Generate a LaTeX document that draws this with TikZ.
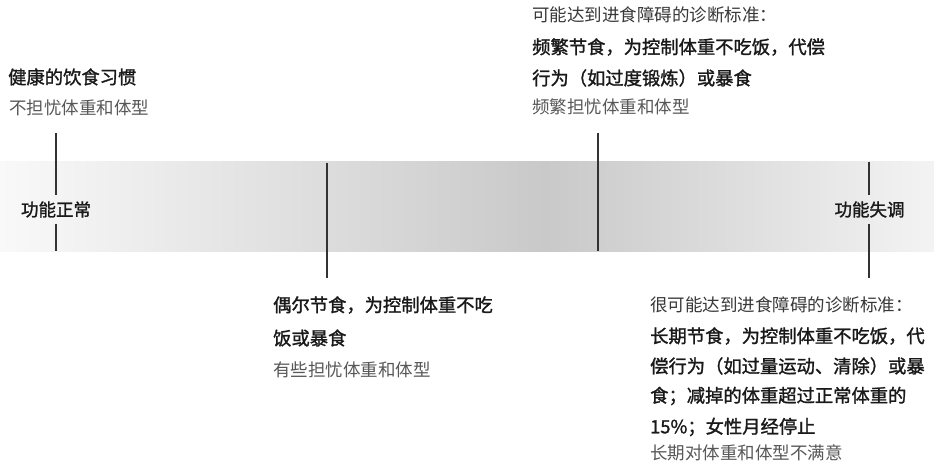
\documentclass[tikz,border=0pt]{standalone}
\usepackage{fontspec}
\newfontfamily\cjk{Noto Sans CJK SC}
\newfontfamily\cjkm{Noto Sans CJK SC}[FakeBold=1.4]
\definecolor{bandL}{HTML}{F9F9F9}
\definecolor{bandM}{HTML}{C9C9C9}
\definecolor{bandR}{HTML}{F3F3F3}
\definecolor{tickc}{HTML}{333333}
\begin{document}
\begin{tikzpicture}[x=1pt,y=-1pt,
  boldtxt/.style={anchor=west,inner sep=0pt,font={\cjkm\fontsize{18.3}{18.3}\selectfont},text=black!90},
  hdrtxt/.style={anchor=west,inner sep=0pt,font={\cjk\fontsize{17.5}{17.5}\selectfont},text=black!78},
  subtxt/.style={anchor=west,inner sep=0pt,font={\cjk\fontsize{17.5}{17.5}\selectfont},text=black!66},
  tick/.style={draw=tickc,line width=1.4pt},
  endlabel/.style={inner xsep=0pt,inner ysep=6pt,font={\cjkm\fontsize{17.5}{17.5}\selectfont},text=black!90}]
\useasboundingbox (0,0) rectangle (934,473);
\fill[white] (0,0) rectangle (934,473);
% gradient band
\shade[left color=bandL,right color=bandM] (0,162) rectangle (546,251);
\shade[left color=bandM,right color=bandR] (545,162) rectangle (934,251);

% end labels
\node[endlabel] (normal) at (56,209.5) {功能正常};
\node[endlabel] (dysf) at (869.5,209.5) {功能失调};

% tick coordinates
\coordinate (t1top) at (56,133);
\coordinate (t1bot) at (56,251);
\coordinate (t2top) at (327,163);
\coordinate (t2bot) at (327,278);
\coordinate (t3top) at (598,133);
\coordinate (t3bot) at (598,251);
\coordinate (t4top) at (869,162);
\coordinate (t4bot) at (869,278);

\draw[tick] (t1top) -- (t1top |- normal.north);
\draw[tick] (t1top |- normal.south) -- (t1bot);
\draw[tick] (t2top) -- (t2bot);
\draw[tick] (t3top) -- (t3bot);
\draw[tick] (t4top) -- (t4top |- dysf.north);
\draw[tick] (t4top |- dysf.south) -- (t4bot);

% top-left block
\node[boldtxt] (a1) at (8,77) {健康的饮食习惯};
\node[subtxt] (a2) at (9,108) {不担忧体重和体型};

% bottom-middle block
\node[boldtxt] (b1) at (273,305) {偶尔节食，为控制体重不吃};
\node[boldtxt] (b2) at (273,338) {饭或暴食};
\node[subtxt] (b3) at (273,370) {有些担忧体重和体型};

% top-right block
\node[hdrtxt] (c1) at (532,15) {可能达到进食障碍的诊断标准：};
\node[boldtxt] (c2) at (532,47) {频繁节食，为控制体重不吃饭，代偿};
\node[boldtxt] (c3) at (532,78) {行为（如过度锻炼）或暴食};
\node[subtxt] (c4) at (532,107) {频繁担忧体重和体型};

% bottom-right block
\node[hdrtxt] (d1) at (650,305) {很可能达到进食障碍的诊断标准：};
\node[boldtxt] (d2) at (650,336) {长期节食，为控制体重不吃饭，代};
\node[boldtxt] (d3) at (650,366) {偿行为（如过量运动、清除）或暴};
\node[boldtxt] (d4) at (650,396) {食；减掉的体重超过正常体重的};
\node[boldtxt] (d5) at (650,427) {15\%；女性月经停止};
\node[subtxt] (d6) at (650,453) {长期对体重和体型不满意};
\end{tikzpicture}
\end{document}
